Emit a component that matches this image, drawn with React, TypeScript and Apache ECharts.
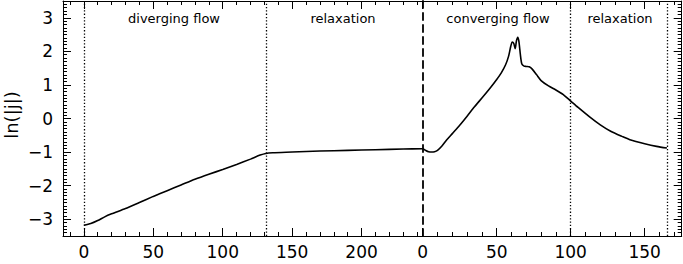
import React, { useEffect, useRef } from "react";
import * as echarts from "echarts";

// Phase 1: diverging flow + relaxation (time since start)
const seg1T = [0, 5, 10, 15, 20, 30, 40, 50, 60, 70, 80, 90, 100, 110, 120, 127, 131, 136, 150, 170, 190, 210, 230, 244];
const seg1V = [-3.18, -3.13, -3.04, -2.93, -2.84, -2.68, -2.5, -2.32, -2.15, -1.98, -1.81, -1.66, -1.52, -1.37, -1.21, -1.09, -1.04, -1.02, -1.0, -0.97, -0.95, -0.93, -0.91, -0.9];

// Phase 2: converging flow + relaxation
const seg2T = [0, 2, 4, 6, 8, 10, 13, 16, 20, 25, 30, 35, 41, 46, 50, 53, 56, 58, 59.5, 60.5, 61.5, 62.5, 63.3, 64.2, 65, 66, 67, 68.5, 70, 72, 74, 77, 80, 85, 90, 95, 100, 105, 113, 120, 127, 135, 140, 150, 158, 165];
const seg2V = [-0.9, -0.95, -0.99, -1.0, -0.99, -0.95, -0.82, -0.65, -0.45, -0.2, 0.07, 0.35, 0.66, 0.93, 1.16, 1.35, 1.6, 1.85, 2.15, 2.28, 2.24, 2.08, 2.3, 2.42, 2.3, 1.9, 1.62, 1.56, 1.55, 1.54, 1.47, 1.3, 1.13, 0.97, 0.85, 0.71, 0.52, 0.33, 0.04, -0.19, -0.38, -0.54, -0.63, -0.75, -0.83, -0.88];

const seg1Ticks = [0, 50, 100, 150, 200];
const seg2Ticks = [0, 50, 100, 150];
const yTicks = [-3, -2, -1, 0, 1, 2, 3];

const seg1Phases = [0, 131];
const seg2Phases = [100, 165.3];
const phaseNames = ["diverging flow", "relaxation", "converging flow", "relaxation"];

const seg1Range = [-15, 244];
const seg2Range = [0, 175];
const yRange = [-3.5, 3.5];

function minorList(lo: number, hi: number, step: number, majorStep: number) {
  const out: number[] = [];
  const n = Math.round((hi - lo) / step);
  for (let i = 0; i <= n; i++) {
    const v = Math.round((lo + i * step) * 1000) / 1000;
    const r = v / majorStep;
    if (Math.abs(r - Math.round(r)) > 1e-6) out.push(v);
  }
  return out;
}

export default function App() {
  const ref = useRef<HTMLDivElement>(null);
  useEffect(() => {
    document.body.style.margin = "0";
    const chart = echarts.init(ref.current!, null, { renderer: "svg" });
    const font = "DejaVu Sans";
    const black = "#000";
    const line = { show: true, onZero: false, lineStyle: { color: black, width: 1 } };
    const noLine = { show: false, onZero: false };

    const xMajor = (grid: number, pos: string, rng: number[], ticks: number[], labels: boolean) => ({
      type: "value",
      gridIndex: grid,
      position: pos,
      min: rng[0],
      max: rng[1],
      axisLine: line,
      axisTick: { show: true, inside: true, length: 8, customValues: ticks, lineStyle: { color: black, width: 1 } },
      axisLabel: labels
        ? { show: true, customValues: ticks, color: black, fontFamily: font, fontSize: 17, margin: 7 }
        : { show: false },
      splitLine: { show: false },
    });
    const xMinor = (grid: number, pos: string, rng: number[]) => ({
      type: "value",
      gridIndex: grid,
      position: pos,
      min: rng[0],
      max: rng[1],
      axisLine: noLine,
      axisTick: { show: true, inside: true, length: 4, customValues: minorList(-10, rng[1], 10, 50).filter((v) => v > rng[0] && v < rng[1]), lineStyle: { color: black, width: 1 } },
      axisLabel: { show: false },
      splitLine: { show: false },
    });
    const yMajor = (grid: number, pos: string, labels: boolean) => ({
      type: "value",
      gridIndex: grid,
      position: pos,
      min: yRange[0],
      max: yRange[1],
      axisLine: line,
      axisTick: { show: true, inside: true, length: 8, customValues: yTicks, lineStyle: { color: black, width: 1 } },
      axisLabel: labels
        ? { show: true, customValues: yTicks, color: black, fontFamily: font, fontSize: 17, margin: 10, formatter: (v: number) => (v < 0 ? "\u2212" + Math.abs(v) : String(v)) }
        : { show: false },
      splitLine: { show: false },
    });
    const yMinor = (grid: number, pos: string) => ({
      type: "value",
      gridIndex: grid,
      position: pos,
      min: yRange[0],
      max: yRange[1],
      axisLine: noLine,
      axisTick: { show: true, inside: true, length: 4, customValues: minorList(-3.4, 3.4, 0.1, 1), lineStyle: { color: black, width: 1 } },
      axisLabel: { show: false },
      splitLine: { show: false },
    });

    const dotted = { color: black, width: 1.3, type: [1.3, 2] };

    chart.setOption({
      animation: false,
      backgroundColor: "#fff",
      grid: [
        { left: 63, top: 1, width: 359.7, height: 235 },
        { left: 422.7, top: 1, width: 259, height: 235 },
      ],
      xAxis: [
        xMajor(0, "bottom", seg1Range, seg1Ticks, true),
        xMinor(0, "bottom", seg1Range),
        xMajor(0, "top", seg1Range, seg1Ticks, false),
        xMinor(0, "top", seg1Range),
        xMajor(1, "bottom", seg2Range, seg2Ticks, true),
        xMinor(1, "bottom", seg2Range),
        xMajor(1, "top", seg2Range, seg2Ticks, false),
        xMinor(1, "top", seg2Range),
      ],
      yAxis: [
        yMajor(0, "left", true),
        yMinor(0, "left"),
        {
          type: "value",
          gridIndex: 1,
          position: "left",
          min: yRange[0],
          max: yRange[1],
          axisLine: { show: true, onZero: false, lineStyle: { color: black, width: 1.8, type: [7, 5] } },
          axisTick: { show: false },
          axisLabel: { show: false },
          splitLine: { show: false },
        },
        yMajor(1, "right", false),
        yMinor(1, "right"),
      ],
      series: [
        {
          type: "line",
          xAxisIndex: 0,
          yAxisIndex: 0,
          data: seg1T.map((t, i) => [t, seg1V[i]]),
          symbol: "none",
          smooth: 0.25,
          lineStyle: { color: black, width: 1.6 },
          markLine: {
            silent: true,
            symbol: "none",
            label: { show: false },
            lineStyle: dotted,
            data: seg1Phases.map((v) => ({ xAxis: v })),
          },
        },
        {
          type: "line",
          xAxisIndex: 4,
          yAxisIndex: 3,
          data: seg2T.map((t, i) => [t, seg2V[i]]),
          symbol: "none",
          smooth: 0.25,
          lineStyle: { color: black, width: 1.6 },
          markLine: {
            silent: true,
            symbol: "none",
            label: { show: false },
            lineStyle: dotted,
            data: seg2Phases.map((v) => ({ xAxis: v })),
          },
        },
      ],
      graphic: [
        ...[174, 343, 498, 620].map((x, i) => ({
          type: "text",
          x,
          y: 18,
          style: { text: phaseNames[i], fontFamily: font, fontSize: 13, fill: black, textAlign: "center", textVerticalAlign: "middle" },
        })),
        {
          type: "text",
          x: 11,
          y: 115,
          rotation: Math.PI / 2,
          style: { text: "ln(|j|)", fontFamily: font, fontSize: 18, fill: black, textAlign: "center", textVerticalAlign: "middle" },
        },
      ],
    });
    return () => chart.dispose();
  }, []);
  return <div ref={ref} style={{ width: 683, height: 264 }} />;
}
